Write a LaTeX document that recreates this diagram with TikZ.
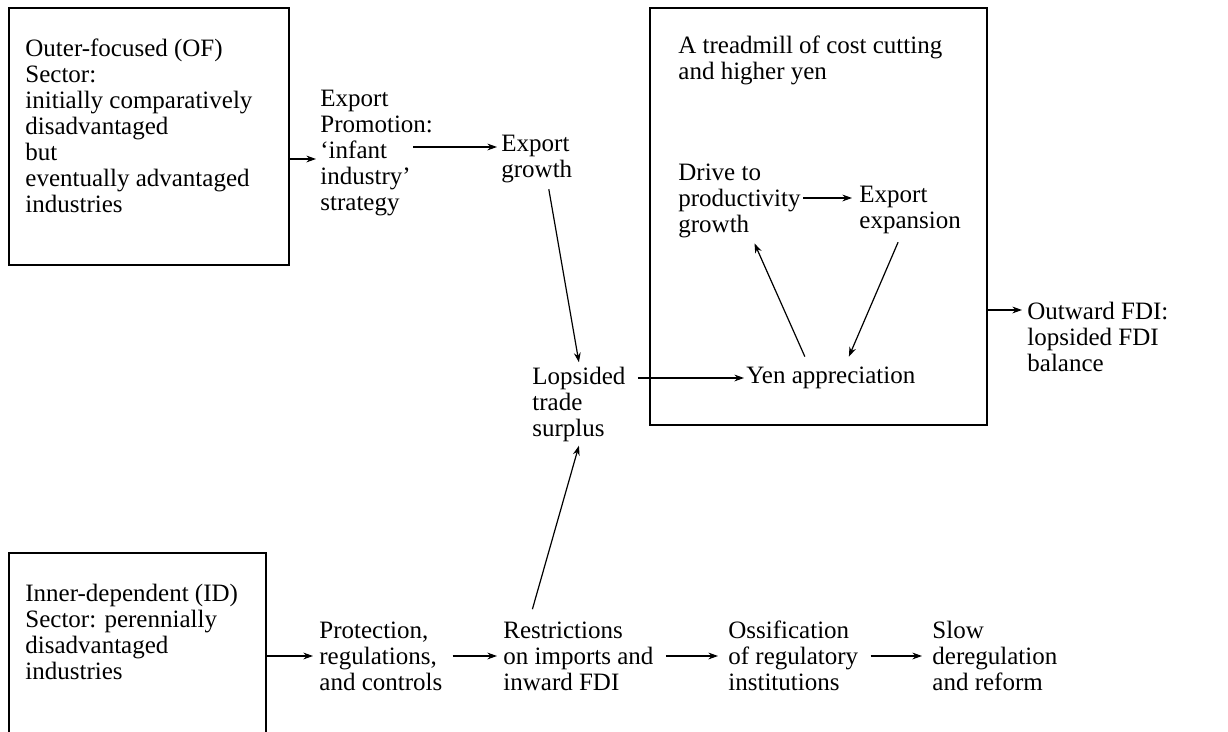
\documentclass[tikz,border=0pt]{standalone}
\usepackage{fontspec}
\setmainfont{Liberation Serif}
\usetikzlibrary{arrows.meta}

\begin{document}
\begin{tikzpicture}[x=0.5pt, y=-0.5pt,
  txt/.style={align=left, inner sep=0pt, anchor=west, font=\fontsize{12.5}{13}\selectfont},
  box/.style={draw, line width=0.75pt, inner sep=0pt},
  arr/.style={-{Stealth[length=4.8pt,width=3.4pt]}, line width=0.6pt}]
\useasboundingbox (0,0) rectangle (1228,732);

% the two sectors
\node [box, minimum width=140pt, minimum height=128.5pt] (ofbox) at (149,136.5) {};
\node [txt] (oftext) at (25,126) {Outer-focused (OF)\\ Sector:\\ initially comparatively\\ disadvantaged\\ but\\ eventually advantaged\\ industries};
\begin{scope}
  \clip (0,0) rectangle (1228,732);
  \node [box, minimum width=128.5pt, minimum height=100pt] (idbox) at (137.5,653) {};
\end{scope}
\node [txt] (idtext) at (25,632) {Inner-dependent (ID)\\ Sector: perennially\\ disadvantaged\\ industries};

% treadmill
\node [box, minimum width=168.5pt, minimum height=208.5pt] (tmbox) at (818.5,216.5) {};
\node [txt] (tmtitle) at (678,60) {A treadmill of cost cutting\\ and higher yen};
\node [txt] (drive) at (678,201) {Drive to\\ productivity\\ growth};
\node [txt] (expexp) at (859,210) {Export\\ expansion};
\node [txt] (yen) at (746,378) {Yen appreciation};

% upper chain
\node [txt] (expromo) at (320,153) {Export\\ Promotion:\\ `infant\\ industry'\\ strategy};
\node [txt] (egrowth) at (501,159) {Export\\ growth};
\node [txt] (lopsided) at (532,404) {Lopsided\\ trade\\ surplus};
\node [txt] (outfdi) at (1027,337) {Outward FDI:\\ lopsided FDI\\ balance};

% lower chain
\node [txt] (protect) at (319,656) {Protection,\\ regulations,\\ and controls};
\node [txt] (restrict) at (503,656) {Restrictions\\ on imports and\\ inward FDI};
\node [txt] (ossif) at (728,656) {Ossification\\ of regulatory\\ institutions};
\node [txt] (slow) at (932,656) {Slow\\ deregulation\\ and reform};

% arrows
\draw [arr] ([yshift=-3pt]ofbox.east |- expromo.west) -- ([xshift=-2pt,yshift=-3pt]expromo.west);
\draw [arr] ([xshift=46.5pt,yshift=6pt]expromo.west |- egrowth.west) -- ([xshift=-2pt,yshift=6pt]egrowth.west);
\draw [arr] ([xshift=6pt,yshift=-3pt]egrowth.south) -- ([yshift=2pt]lopsided.north);
\draw [arr] ([xshift=6pt]lopsided.east |- yen.west) -- ([xshift=-1pt]yen.west);
\draw [arr] ([xshift=-13pt,yshift=5pt]yen.north) -- ([xshift=7.5pt,yshift=-2.5pt]drive.south);
\draw [arr] ([xshift=1pt,yshift=1.5pt]drive.east) -- ([xshift=-3.5pt,yshift=1.5pt]drive.east -| expexp.west);
\draw [arr] ([xshift=-6pt,yshift=-4pt]expexp.south) -- ([xshift=9pt,yshift=5pt]yen.north);
\draw [arr] ([yshift=13.5pt]tmbox.east |- outfdi.west) -- ([xshift=-2.5pt,yshift=13.5pt]outfdi.west);
\draw [arr] (idbox.east |- protect.west) -- ([xshift=-3pt]protect.west);
\draw [arr] ([xshift=5pt]protect.east) -- ([xshift=-3pt]restrict.west);
\draw [arr] ([xshift=6pt]restrict.east) -- ([xshift=-5pt]ossif.west);
\draw [arr] ([xshift=6pt]ossif.east) -- ([xshift=-5pt]slow.west);
\draw [arr] ([xshift=-23pt,yshift=6pt]restrict.north) -- ([yshift=-2pt]lopsided.south);
\end{tikzpicture}
\end{document}
